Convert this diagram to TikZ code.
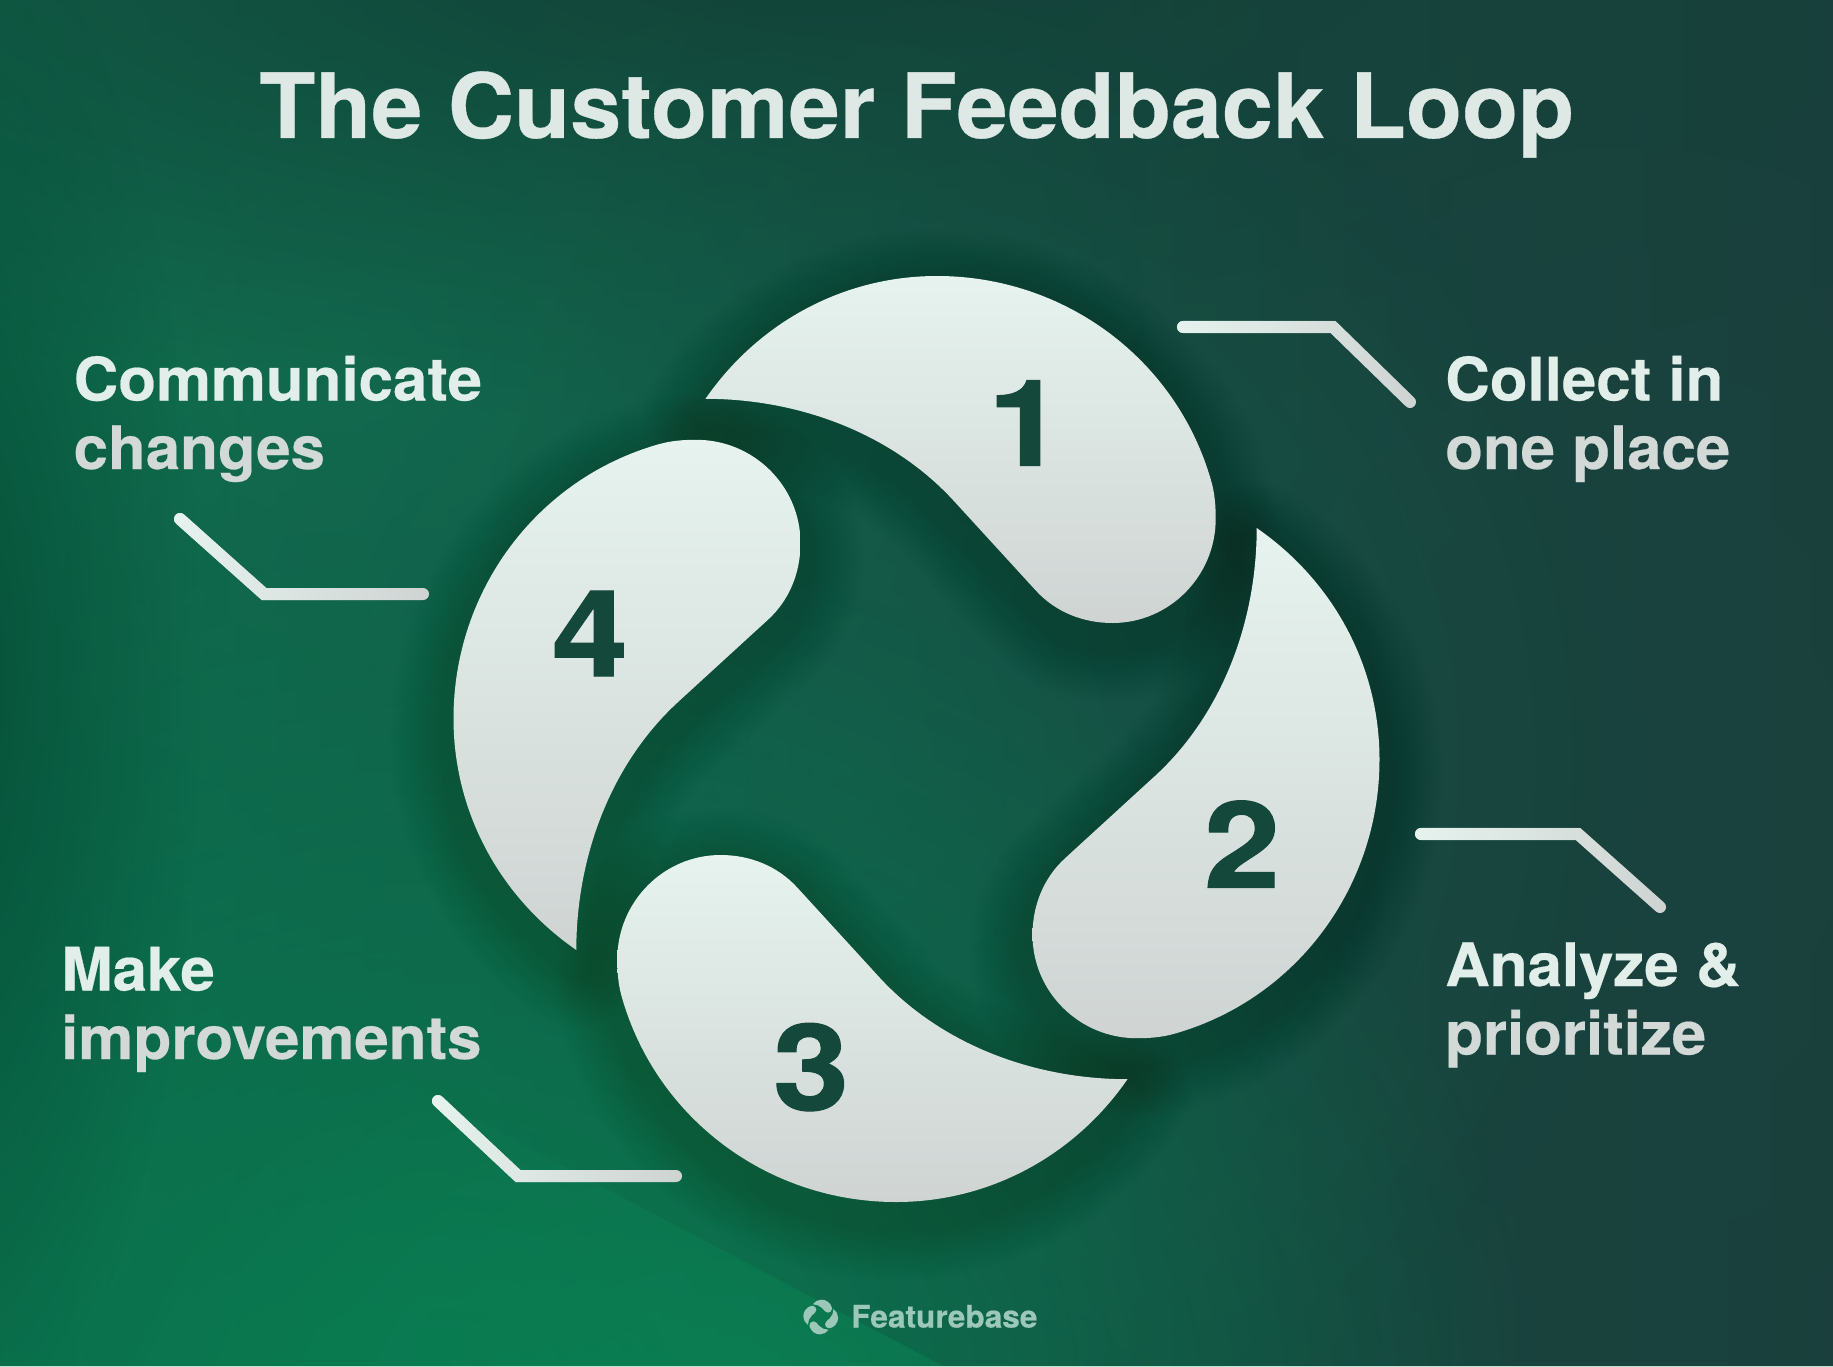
\documentclass[tikz,border=0pt]{standalone}
\usepackage{fontspec}
\usetikzlibrary{fadings}
\setmainfont{TeX Gyre Heros}[BoldFont=* Bold]
\newfontfamily\headfont{TeX Gyre Heros Bold}[FakeStretch=1.02,FakeBold=.35]
\newfontfamily\sidefont{TeX Gyre Heros Bold}[FakeStretch=1.03,FakeBold=.35]
\newfontfamily\numfont{TeX Gyre Heros Bold}[FakeStretch=1.14,FakeBold=1]
\definecolor{faceTop}{HTML}{E6F3EE}
\definecolor{faceBot}{HTML}{CFD4D3}
\definecolor{numInk}{HTML}{14483B}
\definecolor{logoInk}{HTML}{9CC8BA}
\definecolor{bgL}{RGB}{14,104,75}
\definecolor{bgM}{RGB}{20,80,68}
\definecolor{bgR}{RGB}{26,61,60}
\definecolor{bgA}{RGB}{18,112,80}
\definecolor{bgB}{RGB}{18,66,56}
\definecolor{bgC}{RGB}{20,92,74}
\definecolor{bgD}{RGB}{26,66,61}
\definecolor{bgE}{RGB}{9,122,80}
\definecolor{bgF}{RGB}{11,128,84}
\definecolor{bgG}{RGB}{6,80,56}
\definecolor{bgH}{RGB}{190,225,210}
\definecolor{shadowInk}{RGB}{10,40,34}
\tikzfading[name=blobf, inner color=transparent!0, outer color=transparent!100]
\tikzfading[name=lineFade, left color=transparent!0, right color=transparent!100]
\newcommand{\piecepath}{
  (705.5,398.8) .. controls (758.6,322.1) and (843.7,276) .. (937,276)
  .. controls (1064.1,276) and (1176.4,358.7) .. (1211.2,481)
  .. controls (1214.8,493.5) and (1215.7,506) .. (1215.7,518.8)
  .. controls (1215.7,576) and (1169.5,623) .. (1112.4,623)
  .. controls (1083.2,623) and (1055.6,612.1) .. (1035.9,590.6)
  -- (953,500)
  .. controls (892,434) and (800,398.8) .. (705.5,398.8) -- cycle}
\tikzset{
  facefill/.style={top color=faceTop, bottom color=faceBot, draw=none},
  numlabel/.style={font=\numfont\fontsize{120}{120}\selectfont, text=numInk, anchor=base, inner sep=0pt},
  sidelabel/.style={font=\sidefont\fontsize{60}{68.5}\selectfont, anchor=base west, align=left, inner sep=0pt},
  leaderbase/.style={draw=faceBot, line width=12pt, line cap=round, line join=miter},
  leadertop/.style={draw=faceTop, line width=12pt, line cap=round, line join=miter, path fading=lineFade},
  glow/.style={path fading=blobf, draw=none}
}
\begin{document}
\begin{tikzpicture}[x=1pt,y=-1pt]
\useasboundingbox (0,0) rectangle (1833,1367);
\begin{scope}
\clip (0,0) rectangle (1833,1367);
% background
\shade[left color=bgL, middle color=bgM, right color=bgR] (0,0) rectangle (1833,1367);
\fill[glow, fill=bgA, fill opacity=.85] (350,350) ellipse [x radius=800, y radius=700];
\fill[glow, fill=bgB] (800,-60) ellipse [x radius=1500, y radius=480];
\fill[glow, fill=bgD] (1620,800) ellipse [x radius=1150, y radius=1300];
\fill[glow, fill=bgC, fill opacity=.85] (840,760) ellipse [x radius=800, y radius=800];
\fill[glow, fill=bgE] (440,1420) ellipse [x radius=1100, y radius=900];
\begin{scope}
\clip (0,900) -- (400,1080) -- (760,1270) -- (945,1367) -- (0,1367) -- cycle;
\fill[glow, fill=bgF, fill opacity=.9] (720,1430) ellipse [x radius=640, y radius=440];
\end{scope}
\fill[glow, fill=bgG] (-60,680) ellipse [x radius=260, y radius=800];
\fill[bgH] (0,1365.6) rectangle (1833,1367);
\end{scope}

% shadows and pieces
\foreach \r in {0,-90,-180,-270}{
  \foreach \w in {30,36,...,126}{
    \draw[yshift=-16pt, rotate around={\r:(916.5,739)}, draw=shadowInk, draw opacity=.009, line width=\w pt, line join=round] \piecepath;
  }
}
\foreach \r in {0,-90,-180,-270}{
  \shade[facefill, rotate around={\r:(916.5,739)}] \piecepath;
}

% numbers
\node[numlabel] (n1) at (1026,465.5) {1};
\node[numlabel] (n2) at (1242,887.5) {2};
\node[numlabel] (n3) at (811,1110) {3};
\node[numlabel] (n4) at (590,676) {4};

% title
\node[font=\headfont\fontsize{90}{90}\selectfont, text=faceTop!65!faceBot, anchor=base west, inner sep=0pt] (title) at (259,138) {The Customer Feedback Loop};

% side labels
\node[sidelabel] (s1) at (1445,469) {\color{faceTop!85!faceBot}Collect in\\\color{faceBot!85!faceTop}one place};
\node[sidelabel] (s2) at (1445,1054.5) {\color{faceTop!85!faceBot}Analyze \&\\\color{faceBot!85!faceTop}prioritize};
\node[sidelabel] (s3) at (61,1059) {\color{faceTop!85!faceBot}Make\\\color{faceBot!85!faceTop}improvements};
\node[sidelabel] (s4) at (73.5,469) {\color{faceTop!85!faceBot}Communicate\\\color{faceBot!85!faceTop}changes};

% leader lines
\coordinate (a1) at (1183,327);  \coordinate (b1) at (1333,327);  \coordinate (c1) at (1410,402);
\coordinate (a2) at (1421,834);  \coordinate (b2) at (1578,834);  \coordinate (c2) at (1660,907);
\coordinate (a3) at (438,1101);  \coordinate (b3) at (518,1176);  \coordinate (c3) at (676,1176);
\coordinate (a4) at (180,519);   \coordinate (b4) at (264,594);   \coordinate (c4) at (423,594);
\foreach \i in {1,2,3,4}{
  \draw[leaderbase] (a\i) -- (b\i) -- (c\i);
  \draw[leadertop] (a\i) -- (b\i) -- (c\i);
}

% logo
\foreach \r in {0,-90,-180,-270}{
  \fill[logoInk, shift={(820.7,1317)}, scale=.0375, shift={(-916.5,-739)}, rotate around={\r:(916.5,739)}] \piecepath;
}
\node[font=\headfont\fontsize{31}{31}\selectfont, text=logoInk, anchor=base west, inner sep=0pt] (brand) at (851,1327.5) {Featurebase};
\end{tikzpicture}
\end{document}
